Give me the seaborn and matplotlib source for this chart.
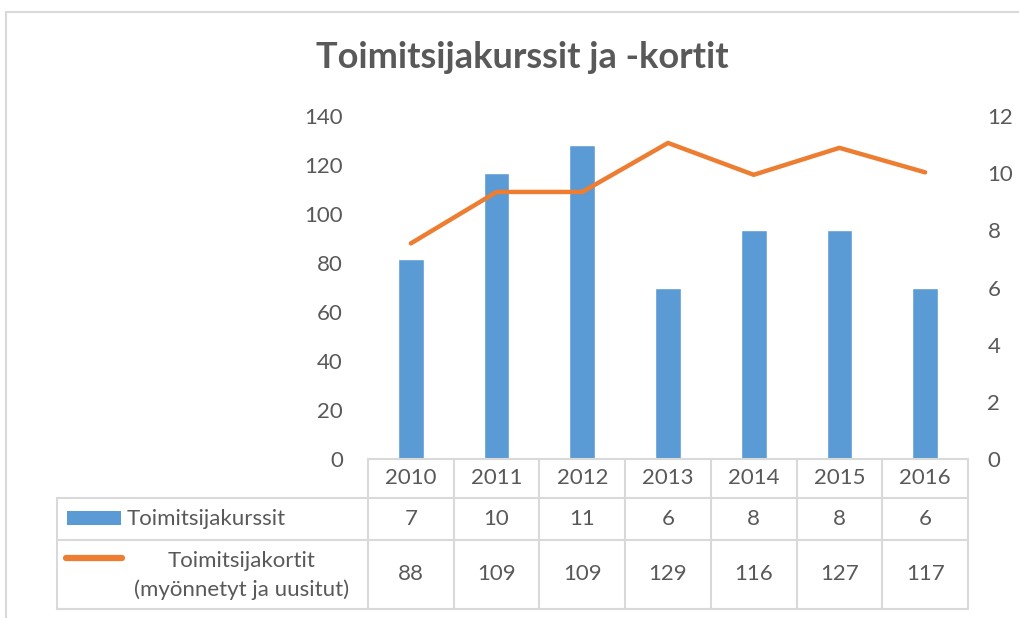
import numpy as np
import matplotlib
matplotlib.use("Agg")
import matplotlib.pyplot as plt
from matplotlib.patches import Rectangle
from matplotlib.lines import Line2D
import seaborn as sns

years = ["2010", "2011", "2012", "2013", "2014", "2015", "2016"]
kurssit = [7, 10, 11, 6, 8, 8, 6]
kortit = [88, 109, 109, 129, 116, 127, 117]
nimi_kurssit = "Toimitsijakurssit"
nimi_kortit = "Toimitsijakortit\n(myönnetyt ja uusitut)"
otsikko = "Toimitsijakurssit ja -kortit"

sns.set_style("white")
plt.rcParams["font.family"] = ["Lato", "DejaVu Sans"]

blue = "#5B9BD5"
orange = "#ED7D31"
txt = "#595959"
grid = "#D9D9D9"
fs = 16

W, H = 1020, 618
fig = plt.figure(figsize=(W / 100, H / 100), dpi=100)

# outer chart border (only left/top visible in the reference)
fig.add_artist(Rectangle((6 / W, -0.5), 2, (H - 12) / H + 0.5, transform=fig.transFigure,
                         fill=False, edgecolor=grid, lw=1.5))

ax = fig.add_axes([368 / W, (H - 459) / H, 600 / W, 343 / H])
ax2 = ax.twinx()

# bars -> right axis (0-12), line -> left axis (0-140)
sns.barplot(x=years, y=kurssit, ax=ax, color=blue, width=0.3, saturation=1)
sns.lineplot(x=years, y=kortit, ax=ax2, color=orange, linewidth=3.2, sort=False)

ax.set_ylim(0, 12)
ax.set_yticks(range(0, 13, 2))
ax2.set_ylim(0, 140)
ax2.set_yticks(range(0, 141, 20))
ax.yaxis.tick_right()
ax2.yaxis.tick_left()
ax.set_xlim(-0.5, len(years) - 0.5)
ax.set_xticks([])
ax.set_xlabel("")
ax.set_ylabel("")
ax2.set_ylabel("")
ax.tick_params(axis="y", length=0, pad=14, labelsize=fs, labelcolor=txt)
ax2.tick_params(axis="y", length=0, pad=18, labelsize=fs, labelcolor=txt)
for a in (ax, ax2):
    for s in a.spines.values():
        s.set_visible(False)
    a.set_facecolor("none")
ax.set_zorder(1)
ax2.set_zorder(2)

fig.text(522 / W, 1 - 58 / H, otsikko, ha="center", va="center", fontsize=26,
         fontweight="bold", color=txt)

# data table below the plot
fig.canvas.draw()
px = lambda i: ax.transData.transform((i, 0))[0]
inv = fig.transFigure.inverted()
def F(x, y):
    return inv.transform((x, H - y))

y0, y1, y2, y3 = 459, 498, 540, 609
xl = 57
xa, xb = px(-0.5), px(len(years) - 0.5)
lw = 1.5

def hline(xs, xe, y):
    (a, b), (c, d) = F(xs, y), F(xe, y)
    fig.add_artist(Line2D([a, c], [b, d], color=grid, lw=lw))

def vline(x, ys, ye):
    (a, b), (c, d) = F(x, ys), F(x, ye)
    fig.add_artist(Line2D([a, c], [b, d], color=grid, lw=lw))

hline(xa, xb, y0)
hline(xl, xb, y1)
hline(xl, xb, y2)
hline(xl, xb, y3)
vline(xl, y1, y3)
for i in range(len(years) + 1):
    vline(px(i - 0.5), y0, y3)

for i, yr in enumerate(years):
    cx = px(i)
    fig.text(*F(cx, (y0 + y1) / 2), yr, ha="center", va="center", fontsize=fs, color=txt)
    fig.text(*F(cx, (y1 + y2) / 2), str(kurssit[i]), ha="center", va="center", fontsize=fs, color=txt)
    fig.text(*F(cx, (y2 + y3) / 2), str(kortit[i]), ha="center", va="center", fontsize=fs, color=txt)

# legend keys
a0, b0 = F(67, 525)
a1, b1 = F(121, 511)
fig.add_artist(Rectangle((a0, b0), a1 - a0, b1 - b0, transform=fig.transFigure,
                         facecolor=blue, edgecolor="none"))
fig.text(*F(127, (y1 + y2) / 2), nimi_kurssit, ha="left", va="center", fontsize=fs, color=txt)
(c0, d0), (c1, d1) = F(66, 558), F(122, 558)
fig.add_artist(Line2D([c0, c1], [d0, d1], color=orange, lw=4.5, solid_capstyle="round"))
fig.text(*F(242, (y2 + y3) / 2 + 1), nimi_kortit, ha="center", va="center", fontsize=fs,
         color=txt, linespacing=1.45)

fig.savefig("out.png", dpi=100)
